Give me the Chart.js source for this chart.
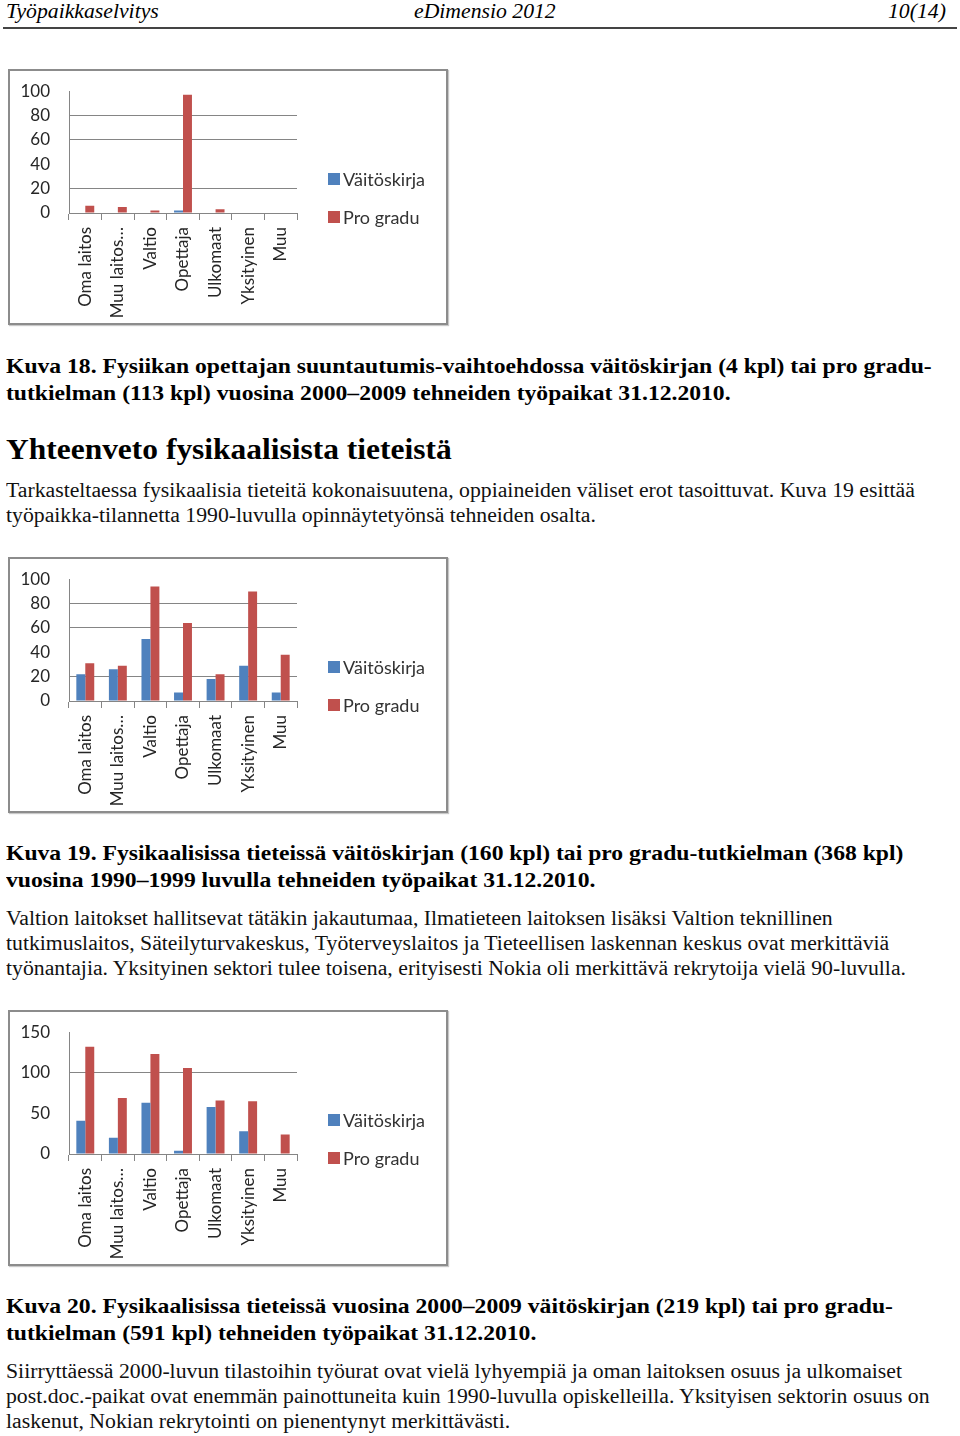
<!DOCTYPE html>
<html>
<head>
<meta charset="UTF-8">
<title>Työpaikkaselvitys</title>
<script src="https://cdn.jsdelivr.net/npm/chart.js"></script>
<style>
  body { margin: 0; background: #fff; width: 960px; height: 1436px; position: relative; overflow: hidden; }
  .t { position: absolute; left: 6px; white-space: nowrap; font-family: "Liberation Serif", "Times New Roman", serif; color: #000; transform-origin: 0 50%; }
  .hdr { font-style: italic; font-size: 21px; line-height: 24px; top: -1px; transform: scaleX(1.034); }
  .cap { font-weight: bold; font-size: 21px; line-height: 27px; transform: scaleX(1.125); }
  .body { font-size: 20px; line-height: 25px; color: #111; transform: scaleX(1.087); }
  .h2 { font-weight: bold; font-size: 29px; line-height: 36px; transform: scaleX(1.085); }
  .rule { position: absolute; left: 3px; width: 954px; top: 27px; height: 0; border-top: 2px solid #444; }
  .box { position: absolute; left: 8px; width: 440px; height: 256px; box-sizing: border-box;
         border: 2px solid #8c8c8c; box-shadow: 1px 1px 1px #c8c8c8; background: #fff; }
  .box canvas { position: absolute; left: 0; top: 10px; }
  .lg { position: absolute; left: 318px; height: 20px; line-height: 20px; white-space: nowrap;
        font-family: Lato, "Open Sans", sans-serif; font-size: 18px; color: #333; }
  .lg i { position: absolute; left: 0; top: 4px; width: 12px; height: 12px; }
  .lg span { position: absolute; left: 15px; top: 0; }
</style>
</head>
<body>

<div class="t hdr">Työpaikkaselvitys</div>
<div class="t hdr" style="left:414px">eDimensio 2012</div>
<div class="t hdr" style="left:888px">10(14)</div>
<div class="rule"></div>

<div class="box" id="box18" style="top:69px"><canvas id="kuva18" width="436" height="240"></canvas></div>

<div class="t cap" style="top:353px">Kuva 18. Fysiikan opettajan suuntautumis-vaihtoehdossa väitöskirjan (4 kpl) tai pro gradu-</div>
<div class="t cap" style="top:380px">tutkielman (113 kpl) vuosina 2000–2009 tehneiden työpaikat 31.12.2010.</div>

<div class="t h2" style="top:431px">Yhteenveto fysikaalisista tieteistä</div>

<div class="t body" style="top:478px">Tarkasteltaessa fysikaalisia tieteitä kokonaisuutena, oppiaineiden väliset erot tasoittuvat. Kuva 19 esittää</div>
<div class="t body" style="top:503px">työpaikka-tilannetta 1990-luvulla opinnäytetyönsä tehneiden osalta.</div>

<div class="box" id="box19" style="top:557px"><canvas id="kuva19" width="436" height="240"></canvas></div>

<div class="t cap" style="top:840px">Kuva 19. Fysikaalisissa tieteissä väitöskirjan (160 kpl) tai pro gradu-tutkielman (368 kpl)</div>
<div class="t cap" style="top:867px">vuosina 1990–1999 luvulla tehneiden työpaikat 31.12.2010.</div>

<div class="t body" style="top:906px">Valtion laitokset hallitsevat tätäkin jakautumaa, Ilmatieteen laitoksen lisäksi Valtion teknillinen</div>
<div class="t body" style="top:931px">tutkimuslaitos, Säteilyturvakeskus, Työterveyslaitos ja Tieteellisen laskennan keskus ovat merkittäviä</div>
<div class="t body" style="top:956px">työnantajia. Yksityinen sektori tulee toisena, erityisesti Nokia oli merkittävä rekrytoija vielä 90-luvulla.</div>

<div class="box" id="box20" style="top:1010px"><canvas id="kuva20" width="436" height="240"></canvas></div>

<div class="t cap" style="top:1293px">Kuva 20. Fysikaalisissa tieteissä vuosina 2000–2009 väitöskirjan (219 kpl) tai pro gradu-</div>
<div class="t cap" style="top:1320px">tutkielman (591 kpl) tehneiden työpaikat 31.12.2010.</div>

<div class="t body" style="top:1359px">Siirryttäessä 2000-luvun tilastoihin työurat ovat vielä lyhyempiä ja oman laitoksen osuus ja ulkomaiset</div>
<div class="t body" style="top:1384px">post.doc.-paikat ovat enemmän painottuneita kuin 1990-luvulla opiskelleilla. Yksityisen sektorin osuus on</div>
<div class="t body" style="top:1409px">laskenut, Nokian rekrytointi on pienentynyt merkittävästi.</div>

<script>
// categories shared by all three charts
const categories = ['Oma laitos', 'Muu laitos…', 'Valtio', 'Opettaja', 'Ulkomaat', 'Yksityinen', 'Muu'];
const seriesNames = ['Väitöskirja', 'Pro gradu'];

// Kuva 18: fysiikan opettajat 2000-2009
const kuva18Vaitos = [0, 0, 0, 2, 0, 0, 0];
const kuva18Gradu = [6, 5, 2, 97, 3, 0, 0];
const kuva18Ticks = [0, 20, 40, 60, 80, 100];

// Kuva 19: fysikaaliset tieteet 1990-1999
const kuva19Vaitos = [22, 26, 51, 7, 18, 29, 7];
const kuva19Gradu = [31, 29, 94, 64, 22, 90, 38];
const kuva19Ticks = [0, 20, 40, 60, 80, 100];

// Kuva 20: fysikaaliset tieteet 2000-2009
const kuva20Vaitos = [41, 20, 63, 4, 58, 28, 0];
const kuva20Gradu = [132, 69, 123, 106, 66, 65, 24];
const kuva20Ticks = [0, 50, 100, 150];

const BLUE = '#4f81bd';
const RED = '#c0504d';
const LINE = '#858585';
const TXT = '#262626';
const font = { family: 'Lato, "Open Sans", sans-serif', size: 17 };

// legend as plain html next to the canvas (chart.js caps a right legend at half the width)
function htmlLegend(chart, boxId) {
    const box = document.getElementById(boxId);
    const tops = [98, 136];
    chart.data.datasets.forEach((ds, i) => {
        const el = document.createElement('div');
        el.className = 'lg';
        el.style.top = tops[i] + 'px';
        el.innerHTML = '<i style="background:' + ds.backgroundColor + '"></i><span>' + ds.label + '</span>';
        box.appendChild(el);
    });
}

// the scanned charts lost some gridlines; only these are visible
function drawBars(id, boxId, vaitos, gradu, ticks, shownGrid) {
    const max = ticks[ticks.length - 1];
    const step = ticks[1] - ticks[0];
    const chart = new Chart(document.getElementById(id), {
        type: 'bar',
        data: {
            labels: categories,
            datasets: [
                { label: seriesNames[0], data: vaitos, backgroundColor: BLUE },
                { label: seriesNames[1], data: gradu, backgroundColor: RED }
            ]
        },
        options: {
            responsive: false,
            animation: false,
            categoryPercentage: 0.55,
            barPercentage: 1.0,
            layout: { padding: { top: 10, right: 149, bottom: 0, left: 0 } },
            scales: {
                x: {
                    grid: { drawOnChartArea: false, drawTicks: true, tickLength: 7, color: LINE, offset: true },
                    border: { display: true, color: LINE },
                    ticks: { autoSkip: false, minRotation: 90, maxRotation: 90, padding: 7, color: TXT, font: font },
                    afterFit: s => { s.height = 108; }
                },
                y: {
                    min: 0,
                    max: max,
                    // gap between labels and axis comes from an invisible tick mark
                    ticks: { stepSize: step, autoSkip: false, padding: 0, color: TXT, font: font },
                    grid: {
                        drawTicks: true,
                        tickLength: 19,
                        tickColor: 'rgba(0,0,0,0)',
                        color: c => shownGrid.includes(c.tick.value) ? LINE : 'rgba(0,0,0,0)'
                    },
                    border: { display: true, color: LINE },
                    afterFit: s => { s.width = 59; }
                }
            },
            plugins: {
                tooltip: { enabled: false },
                legend: { display: false }
            }
        }
    });
    htmlLegend(chart, boxId);
    return chart;
}

drawBars('kuva18', 'box18', kuva18Vaitos, kuva18Gradu, kuva18Ticks, [20, 60, 80]);
drawBars('kuva19', 'box19', kuva19Vaitos, kuva19Gradu, kuva19Ticks, [20, 60, 80]);
drawBars('kuva20', 'box20', kuva20Vaitos, kuva20Gradu, kuva20Ticks, [100]);
</script>
</body>
</html>
